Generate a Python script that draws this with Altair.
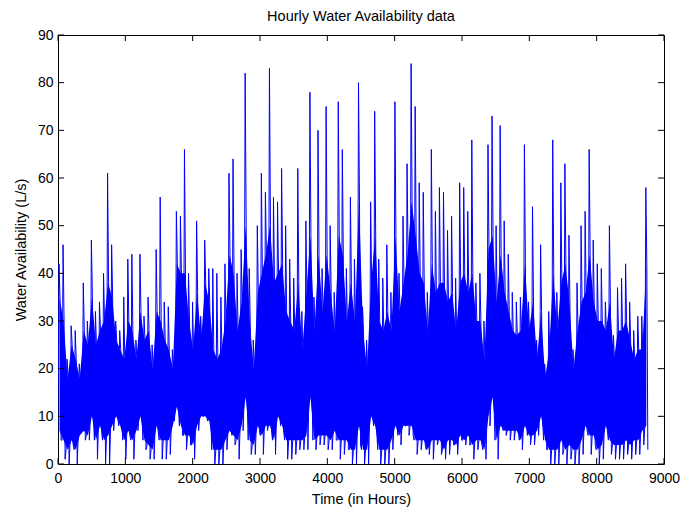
import altair as alt
import pandas as pd

# Per ~60-hour block (L/s):
# highs / lows = the tallest spike and deepest dip in the block,
# core_hi / core_lo = top and bottom of the dense blue band in the block.
highs = [42, 46, 22, 29, 28, 21, 38, 30, 47, 32,
         34, 40, 61, 46, 30, 28, 35, 43, 44, 26,
         44, 31, 35, 25, 45, 56, 34, 33, 24, 53,
         52, 66, 40, 34, 51, 31, 47, 41, 41, 40,
         35, 42, 61, 64, 40, 45, 82, 41, 26, 50,
         61, 57, 83, 56, 55, 62, 50, 43, 39, 62,
         32, 51, 78, 35, 70, 41, 75, 50, 36, 76,
         66, 41, 56, 43, 80, 33, 26, 55, 74, 43,
         39, 46, 36, 76, 40, 52, 63, 84, 75, 59,
         57, 36, 66, 53, 58, 57, 49, 52, 39, 59,
         58, 53, 68, 38, 40, 30, 67, 73, 50, 71,
         51, 44, 36, 34, 35, 67, 34, 54, 26, 46,
         21, 32, 68, 36, 59, 63, 48, 24, 38, 50,
         53, 66, 47, 42, 41, 34, 50, 27, 37, 39,
         42, 34, 28, 31, 31, 58]
lows = [5, 1, 0, 4, 0, 7, 5, 5, 10, 1,
        7, 0, 0, 7, 10, 9, 1, 6, 1, 7,
        10, 3, 1, 1, 7, 1, 1, 2, 9, 12,
        6, 3, 4, 1, 7, 10, 10, 10, 0, 0,
        0, 3, 7, 4, 1, 7, 14, 2, 2, 7,
        2, 7, 7, 2, 11, 7, 1, 1, 2, 3,
        3, 3, 15, 3, 4, 4, 3, 3, 5, 1,
        2, 3, 0, 0, 4, 0, 0, 10, 7, 0,
        0, 0, 3, 8, 4, 8, 6, 6, 2, 3,
        4, 2, 1, 4, 2, 1, 2, 4, 2, 5,
        4, 4, 1, 3, 4, 1, 8, 12, 1, 8,
        6, 5, 5, 7, 3, 9, 4, 4, 6, 9,
        3, 0, 0, 0, 2, 0, 1, 0, 0, 2,
        7, 2, 4, 0, 1, 7, 2, 1, 1, 1,
        2, 1, 2, 2, 4, 3]
core_hi = [35, 30, 18, 25, 22, 18, 28, 25, 35, 25,
           28, 30, 38, 35, 26, 24, 22, 30, 28, 22,
           32, 26, 28, 20, 32, 30, 26, 24, 20, 42,
           40, 40, 30, 24, 36, 26, 38, 34, 24, 22,
           24, 30, 44, 40, 28, 34, 50, 30, 20, 36,
           40, 44, 50, 38, 40, 42, 32, 30, 28, 38,
           24, 36, 48, 28, 44, 32, 44, 36, 28, 48,
           44, 30, 38, 30, 55, 28, 20, 38, 48, 30,
           28, 32, 28, 48, 32, 38, 44, 55, 48, 40,
           38, 28, 42, 36, 38, 38, 34, 36, 28, 38,
           40, 36, 40, 30, 30, 22, 45, 48, 34, 44,
           36, 32, 28, 27, 28, 42, 28, 34, 22, 32,
           18, 24, 40, 28, 38, 42, 34, 20, 28, 34,
           36, 44, 34, 30, 30, 28, 34, 22, 28, 28,
           30, 26, 22, 24, 24, 42]
core_lo = [7, 5, 3, 5, 3, 6, 7, 6, 10, 5,
           8, 5, 6, 8, 10, 8, 5, 7, 5, 7,
           10, 5, 4, 3, 8, 5, 5, 5, 8, 12,
           8, 6, 6, 4, 8, 10, 10, 9, 3, 3,
           3, 5, 7, 6, 5, 8, 14, 5, 4, 8,
           6, 8, 8, 5, 10, 8, 5, 5, 5, 5,
           5, 6, 14, 5, 6, 6, 6, 5, 7, 5,
           5, 5, 3, 3, 8, 3, 3, 10, 8, 3,
           3, 3, 5, 8, 6, 8, 8, 8, 5, 5,
           5, 3, 5, 5, 5, 3, 5, 5, 4, 6,
           5, 6, 4, 5, 5, 3, 10, 14, 5, 8,
           7, 7, 7, 7, 5, 8, 6, 6, 7, 10,
           5, 3, 3, 3, 5, 3, 4, 3, 3, 5,
           8, 6, 6, 3, 4, 8, 5, 4, 4, 4,
           5, 4, 5, 5, 7, 8]
last_hour = 8760
x_ticks = [0, 1000, 2000, 3000, 4000, 5000, 6000, 7000, 8000, 9000]
y_ticks = [0, 10, 20, 30, 40, 50, 60, 70, 80, 90]

values = []
for lo_c, hi, hi_c, lo in zip(core_lo, highs, core_hi, lows):
    values += [lo_c, hi, hi_c, lo]
n = len(values)
hours = [i * last_hour / (n - 1) for i in range(n)]
df = pd.DataFrame({"hour": hours, "value": values})
block_hours = [sum(hours[4 * k:4 * k + 4]) / 4 for k in range(len(highs))]
dfb = pd.DataFrame({"hour": block_hours, "lo": core_lo, "hi": core_hi})
dfx = pd.DataFrame({"t": x_ticks})
dfy = pd.DataFrame({"t": y_ticks})

W, H = 606, 429
FONT = "Liberation Sans"
BLUE = "#0000FF"

xscale = alt.Scale(domain=[0, 9000], nice=False, zero=False)
yscale = alt.Scale(domain=[0, 90], nice=False)
xaxis = alt.Axis(values=x_ticks, title="Time (in Hours)", format="d")
yaxis = alt.Axis(values=y_ticks, title="Water Availability (L/s)", format="d")

band = alt.Chart(dfb).mark_area(color=BLUE, opacity=1, clip=True).encode(
    x=alt.X("hour:Q", scale=xscale, axis=xaxis),
    y=alt.Y("lo:Q", scale=yscale, axis=yaxis),
    y2="hi:Q",
)

line = alt.Chart(df).mark_line(color=BLUE, strokeWidth=1, clip=True).encode(
    x=alt.X("hour:Q", scale=xscale, axis=xaxis),
    y=alt.Y("value:Q", scale=yscale, axis=yaxis),
)

TL = 6
bottom_ticks = alt.Chart(dfx).mark_rule(color="black", strokeWidth=1).encode(
    x=alt.X("t:Q", scale=xscale, axis=xaxis), y=alt.value(H), y2=alt.value(H - TL))
top_ticks = alt.Chart(dfx).mark_rule(color="black", strokeWidth=1).encode(
    x=alt.X("t:Q", scale=xscale, axis=xaxis), y=alt.value(0), y2=alt.value(TL))
left_ticks = alt.Chart(dfy).mark_rule(color="black", strokeWidth=1).encode(
    y=alt.Y("t:Q", scale=yscale, axis=yaxis), x=alt.value(0), x2=alt.value(TL))
right_ticks = alt.Chart(dfy).mark_rule(color="black", strokeWidth=1).encode(
    y=alt.Y("t:Q", scale=yscale, axis=yaxis), x=alt.value(W - TL), x2=alt.value(W))

chart = alt.layer(band, line, bottom_ticks, top_ticks, left_ticks, right_ticks).properties(
    width=W, height=H,
    title=alt.TitleParams("Hourly Water Availability data", font=FONT, fontSize=14.5,
                          fontWeight="normal", color="black", anchor="middle",
                          offset=4),
    padding={"left": 50, "top": 27, "right": 21, "bottom": 46},
    autosize="none",
).configure_view(
    stroke="black", strokeWidth=1
).configure_axis(
    domain=False, ticks=False, grid=False, labelFlush=False,
    labelFont=FONT, labelFontSize=14, labelColor="black",
    titleFont=FONT, titleFontSize=14.5, titleFontWeight="normal", titleColor="black",
).configure_axisX(
    labelPadding=7, titlePadding=7,
).configure_axisY(
    labelPadding=5, titlePadding=9,
)

chart.save("out.html", embed_options={"renderer": "svg", "actions": False})
